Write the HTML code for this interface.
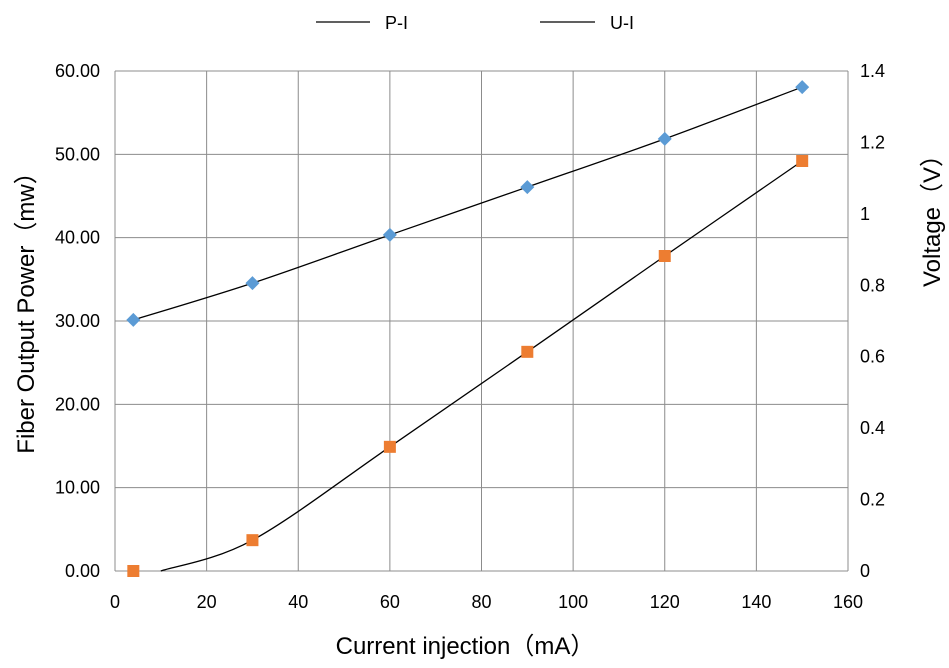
<!DOCTYPE html>
<html><head><meta charset="utf-8"><style>
body{margin:0;background:#fff;}
svg{display:block;font-family:"Liberation Sans","Noto Sans CJK SC",sans-serif;}
</style></head><body>
<svg id="chart" width="949" height="668" viewBox="0 0 949 668"></svg>
<script>
const currents = [4, 30, 60, 90, 120, 150];
const powerValues = [0, 3.7, 14.9, 26.3, 37.8, 49.2];
const voltageValues = [0.703, 0.806, 0.941, 1.075, 1.21, 1.355];
const xTicks = [0, 20, 40, 60, 80, 100, 120, 140, 160];
const yLeftTicks = ["0.00","10.00","20.00","30.00","40.00","50.00","60.00"];
const yRightTicks = ["0","0.2","0.4","0.6","0.8","1","1.2","1.4"];

const NS = "http://www.w3.org/2000/svg";
const svg = document.getElementById('chart');
const X0 = 115, X1 = 848, Y0 = 571, Y1 = 71;
const sx = v => X0 + (v / 160) * (X1 - X0);
const syL = v => Y0 - (v / 60) * (Y0 - Y1);
const syR = v => Y0 - (v / 1.4) * (Y0 - Y1);
function mk(tag, attrs, text) {
  const e = document.createElementNS(NS, tag);
  for (const k in attrs) e.setAttribute(k, attrs[k]);
  if (text !== undefined) e.textContent = text;
  svg.appendChild(e);
  return e;
}
xTicks.forEach((t, i) => {
  const g = mk('line', {x1: sx(t), x2: sx(t), y1: Y1, y2: Y0, stroke: '#8c8c8c', 'stroke-width': 1});
  
  
  const l = mk('text', {x: sx(t), y: 608, 'text-anchor': 'middle', 'font-size': 18, fill: '#000'}, t);
  
  
});
yLeftTicks.forEach((t, i) => {
  const y = syL(i * 10);
  const g = mk('line', {x1: X0, x2: X1, y1: y, y2: y, stroke: '#8c8c8c', 'stroke-width': 1});
  
  
  const l = mk('text', {x: 100, y: y + 6, 'text-anchor': 'end', 'font-size': 18, fill: '#000'}, t);
  
  
});
yRightTicks.forEach((t, i) => {
  const y = syR(i * 0.2);
  const l = mk('text', {x: 860, y: y + 6, 'text-anchor': 'start', 'font-size': 18, fill: '#000'}, t);
  
  
});
function smooth(pts) {
  let d = `M${pts[0][0]},${pts[0][1]}`;
  for (let i = 0; i < pts.length - 1; i++) {
    const p0 = pts[Math.max(0, i - 1)], p1 = pts[i], p2 = pts[i + 1], p3 = pts[Math.min(pts.length - 1, i + 2)];
    const c1 = [p1[0] + (p2[0] - p0[0]) / 6, p1[1] + (p2[1] - p0[1]) / 6];
    const c2 = [p2[0] - (p3[0] - p1[0]) / 6, p2[1] - (p3[1] - p1[1]) / 6];
    d += ` C${c1[0]},${c1[1]} ${c2[0]},${c2[1]} ${p2[0]},${p2[1]}`;
  }
  return d;
}
const pPts = currents.map((c, i) => [sx(c), syL(powerValues[i])]);
pPts[0] = [sx(currents[0] + 6), syL(powerValues[0])];
const pLine = mk('path', {d: smooth(pPts), fill: 'none', stroke: '#000', 'stroke-width': 1.3});


const vPts = currents.map((c, i) => [sx(c), syR(voltageValues[i])]);
const vLine = mk('path', {d: smooth(vPts), fill: 'none', stroke: '#000', 'stroke-width': 1.3});


currents.forEach((c, i) => {
  const x = sx(c), y = syL(powerValues[i]);
  const r = mk('rect', {x: x - 6, y: y - 6, width: 12, height: 12, fill: '#ed7d31'});
  
  
  const vy = syR(voltageValues[i]);
  const d = mk('path', {d: `M${x},${vy-7} L${x+7},${vy} L${x},${vy+7} L${x-7},${vy} Z`, fill: '#5b9bd5'});
  
  
});
</script>
<svg style="position:absolute;left:0;top:0" width="949" height="668" font-family="Liberation Sans, Noto Sans CJK SC, sans-serif">
  <line x1="316" x2="370" y1="22" y2="22" stroke="#000" stroke-width="1.3"/>
  <text x="385" y="29" font-size="18">P-I</text>
  <line x1="540" x2="595" y1="22" y2="22" stroke="#000" stroke-width="1.3"/>
  <text x="610" y="29" font-size="18">U-I</text>
  <text x="465" y="654" font-size="24" text-anchor="middle">Current injection（mA）</text>
  <text transform="translate(34,307) rotate(-90)" font-size="24" text-anchor="middle">Fiber Output Power（mw）</text>
  <text transform="translate(940,215) rotate(-90)" font-size="24" text-anchor="middle">Voltage（V）</text>
</svg>
</body></html>
